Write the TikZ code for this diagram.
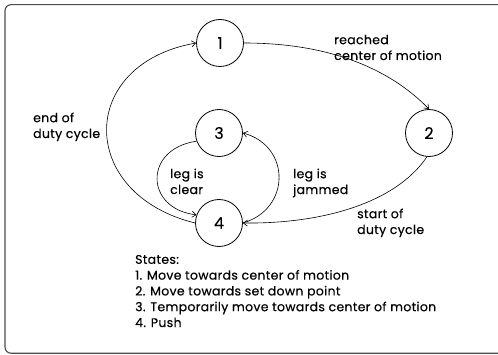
\documentclass[tikz,border=0pt]{standalone}
\usepackage{fontspec}
\setmainfont{Poppins}[FakeBold=0.35,LetterSpace=2.5]
\usetikzlibrary{arrows.meta}
\begin{document}
\begin{tikzpicture}[x=1pt,y=1pt,
  state/.style={circle,draw,line width=0.8pt,minimum size=47pt,inner sep=0pt,font=\fontsize{16}{16}\selectfont},
  lbl/.style={anchor=base west,inner sep=0pt,align=left,font=\fontsize{12.5}{15.8}\selectfont},
  edge/.style={line width=0.6pt,-{Straight Barb[length=4pt,width=6pt]}}]
\useasboundingbox (0,0) rectangle (498,354);
\begin{scope}
\clip (0,0) rectangle (498,354);
\draw[line width=1.1pt,black!70,rounded corners=6pt] (5,0.8) rectangle (520,349.3);
\end{scope}
\node[state] (n1) at (220,311) {1};
\node[state] (n2) at (429,221) {2};
\node[state] (n3) at (219,221) {3};
\node[state] (n4) at (219,131) {4};
\draw[edge] (n1.east) .. controls (330,311) and (390,285) .. (n2.north);
\draw[edge] (n2.-95) .. controls (395,150) and (320,130) .. (n4.east);
\draw[edge] (n4.west) .. controls (77,160) and (77,290) .. (n1.west);
\draw[edge] (n3.200) .. controls (143,205) and (145,145) .. (n4.160);
\draw[edge] (n4.east) .. controls (291,145) and (291,208) .. (n3.east);
\node[lbl] (l12) at (334,294) {reached\\center of motion};
\node[lbl] (l41) at (33,216) {end of\\duty cycle};
\node[lbl] (l34) at (170,160) {leg is\\clear};
\node[lbl] (l43) at (293,160) {leg is\\jammed};
\node[lbl] (l24) at (357,120) {start of\\duty cycle};
\node[lbl] (key) at (135,27) {States:\\1. Move towards center of motion\\2. Move towards set down point\\3. Temporarily move towards center of motion\\4. Push};
\end{tikzpicture}
\end{document}
